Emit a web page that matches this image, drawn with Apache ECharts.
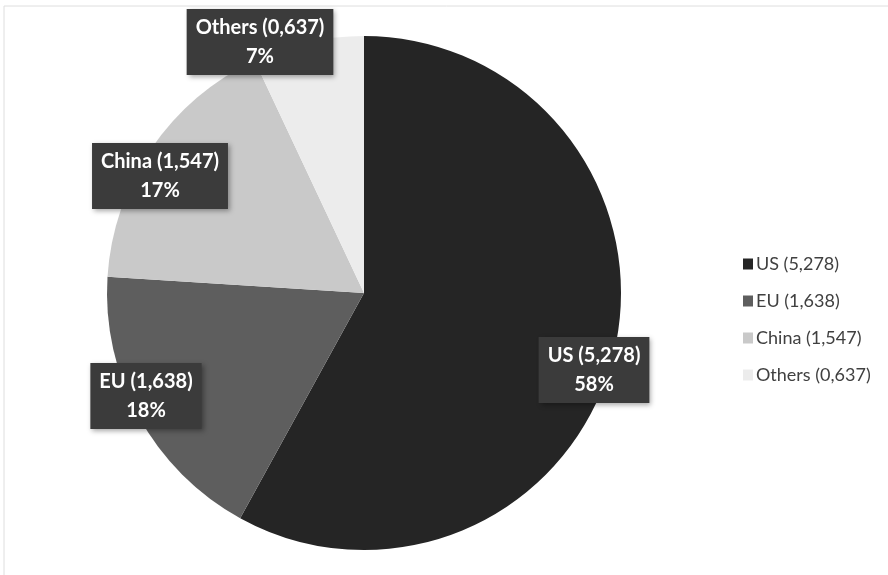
<!DOCTYPE html>
<html>
<head>
<meta charset="utf-8">
<script src="https://cdn.jsdelivr.net/npm/echarts@6/dist/echarts.min.js"></script>
<style>
  html, body { margin: 0; padding: 0; background: #fff; }
  #chart { width: 888px; height: 575px; }
</style>
</head>
<body>
<div id="chart"></div>
<script>
const regions = ['US', 'EU', 'China', 'Others']
const values = [5.278, 1.638, 1.547, 0.637]
const colors = ['#252525', '#5e5e5e', '#c9c9c9', '#ececec']

// label centres, set by hand like the Excel "best fit" placement
const labelPos = [[594, 370], [146, 396], [160, 176], [260, 42]]

const fmt = v => v.toFixed(3).replace('.', ',')

const chart = echarts.init(document.getElementById('chart'))

chart.setOption({
  backgroundColor: '#ffffff',
  animation: false,
  graphic: [{
    type: 'rect',
    shape: { x: 4, y: 6, width: 900, height: 600 },
    style: { fill: 'none', stroke: '#dedede', lineWidth: 1 },
    silent: true,
  }],
  legend: {
    orient: 'vertical',
    left: 738,
    top: 250,
    itemWidth: 10,
    itemHeight: 11,
    itemGap: 19,
    icon: 'rect',
    textStyle: { fontFamily: 'Lato', fontSize: 18, color: '#404040', padding: [0, 0, 0, -2] },
    formatter: name => `${name} (${fmt(values[regions.indexOf(name)])})`,
  },
  series: [{
    type: 'pie',
    center: [364, 293],
    radius: 257,
    startAngle: 90,
    clockwise: true,
    data: regions.map((r, i) => ({ name: r, value: values[i], itemStyle: { color: colors[i] } })),
    label: {
      show: true,
      position: 'inside',
      formatter: p => `${p.name} (${fmt(p.value)})\n${Math.round(p.percent)}%`,
      color: '#ffffff',
      fontFamily: 'Lato',
      fontWeight: 'bold',
      fontSize: 20,
      lineHeight: 29,
      align: 'center',
      backgroundColor: '#3b3b3b',
      padding: [5, 9, 3, 9],
      shadowColor: 'rgba(0,0,0,0.35)',
      shadowBlur: 5,
      shadowOffsetX: 2,
      shadowOffsetY: 2,
    },
    labelLayout: p => ({ x: labelPos[p.dataIndex][0], y: labelPos[p.dataIndex][1], align: 'center', verticalAlign: 'middle' }),
    labelLine: { show: false },
    emphasis: { disabled: true },
  }],
})
</script>
</body>
</html>
